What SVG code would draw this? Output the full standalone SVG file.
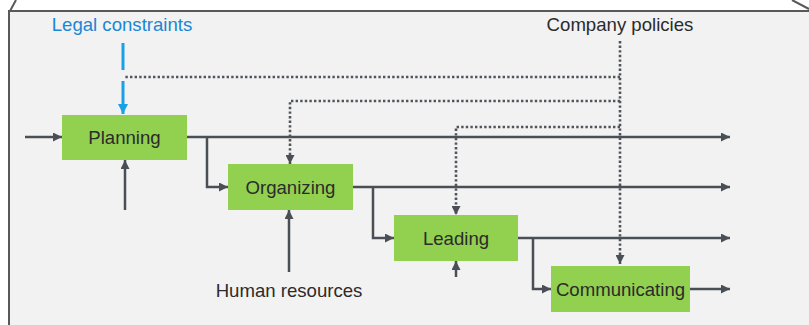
<svg xmlns="http://www.w3.org/2000/svg" width="809" height="325" viewBox="0 0 809 325">
<defs>
<marker id="ah" viewBox="0 0 10 10" refX="10" refY="5" markerWidth="9" markerHeight="9" markerUnits="userSpaceOnUse" orient="auto"><path d="M0,0 L10,5 L0,10 z" fill="#4a4f55"/></marker>
<marker id="ahb" viewBox="0 0 10 10" refX="10" refY="5" markerWidth="10" markerHeight="10" markerUnits="userSpaceOnUse" orient="auto"><path d="M0,0 L10,5 L0,10 z" fill="#1aa0e6"/></marker>
<style>
.box{fill:#92d050;}
.lbl{font-family:"Liberation Sans",Arial,sans-serif;font-size:18.6px;fill:#2b2b2b;text-anchor:middle;}
.c{fill:none;stroke:#4a4f55;stroke-width:2.5;}
.d{fill:none;stroke:#50555b;stroke-width:2.6;stroke-dasharray:2.4 2.2;}
.b{fill:none;stroke:#1aa0e6;stroke-width:3;}
</style>
</defs>
<rect x="0" y="0" width="809" height="325" fill="#ffffff"/>
<g id="frame">
<rect x="9" y="11" width="820" height="330" fill="#f2f2f2" stroke="#595959" stroke-width="2"/>
<line x1="10" y1="11" x2="16" y2="0" stroke="#595959" stroke-width="2"/>
<line x1="792" y1="0" x2="809" y2="9" stroke="#595959" stroke-width="2"/>
</g>
<g id="connectors">
<path class="c" d="M25,137 H62" marker-end="url(#ah)"/>
<path class="c" d="M125,210 V160" marker-end="url(#ah)"/>
<path class="c" d="M187,137 H730" marker-end="url(#ah)"/>
<path class="c" d="M207,137 V187 H228" marker-end="url(#ah)"/>
<path class="c" d="M353,187 H730" marker-end="url(#ah)"/>
<path class="c" d="M373,187 V238 H394" marker-end="url(#ah)"/>
<path class="c" d="M518,238 H730" marker-end="url(#ah)"/>
<path class="c" d="M533,238 V289 H551" marker-end="url(#ah)"/>
<path class="c" d="M690,289 H730" marker-end="url(#ah)"/>
<path class="c" d="M289,272 V210" marker-end="url(#ah)"/>
<path class="c" d="M456,277 V261" marker-end="url(#ah)"/>
<path class="d" d="M620,41 V264" marker-end="url(#ah)"/>
<path class="d" d="M620,77 H124"/>
<path class="d" d="M620,101 H290 V164" marker-end="url(#ah)"/>
<path class="d" d="M620,127 H456 V215" marker-end="url(#ah)"/>
<path class="b" d="M123,43 V70"/>
<path class="b" d="M123,81 V114" marker-end="url(#ahb)"/>
</g>
<g id="legal"><text x="122" y="31" class="lbl" style="fill:#1a86d4">Legal constraints</text></g>
<g id="policies"><text x="620" y="31" class="lbl">Company policies</text></g>
<g id="hr"><text x="289" y="297" class="lbl">Human resources</text></g>
<g id="planning"><rect class="box" x="62" y="115" width="125" height="45"/><text x="124.5" y="144" class="lbl">Planning</text></g>
<g id="organizing"><rect class="box" x="228" y="164" width="125" height="46"/><text x="290.5" y="193.5" class="lbl">Organizing</text></g>
<g id="leading"><rect class="box" x="394" y="215" width="124" height="46"/><text x="456" y="244.5" class="lbl">Leading</text></g>
<g id="communicating"><rect class="box" x="551" y="266" width="139" height="46"/><text x="620.5" y="295.5" class="lbl">Communicating</text></g>
</svg>
